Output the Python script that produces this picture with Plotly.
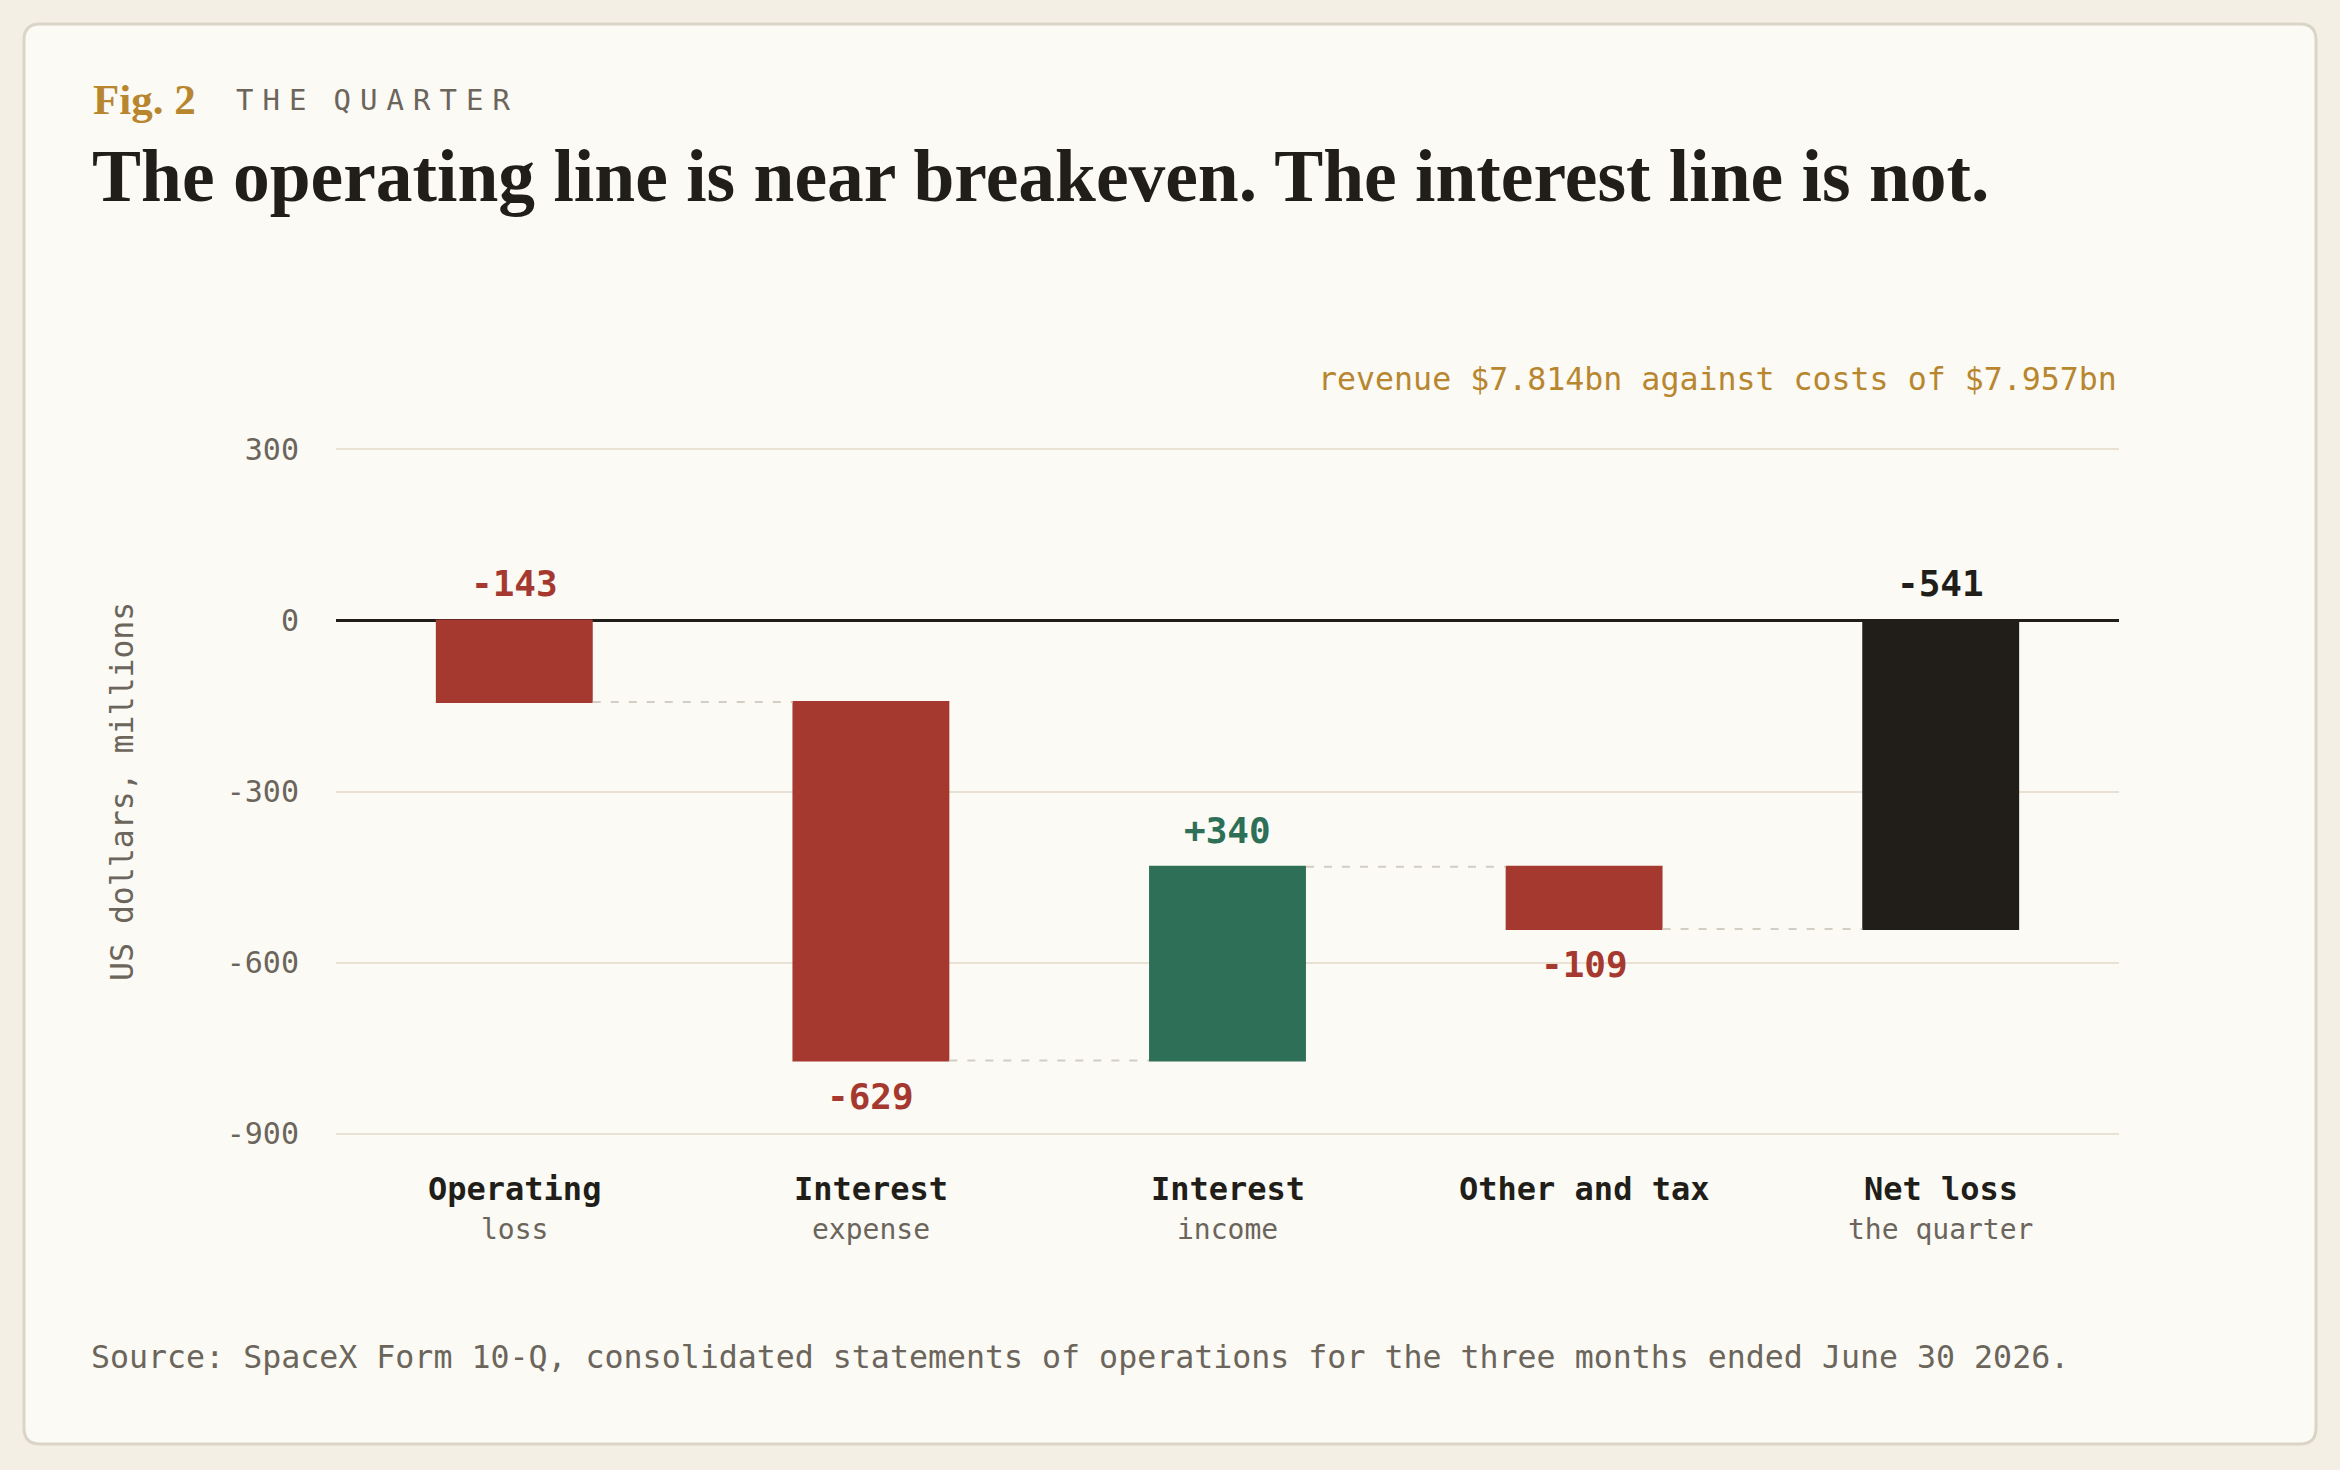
import plotly.graph_objects as go

# values in US$ millions, quarter ended June 30 2026
steps = ["op", "int_exp", "int_inc", "other", "net"]
step_names = ["Operating", "Interest", "Interest", "Other and tax", "Net loss"]
step_notes = ["loss", "expense", "income", "", "the quarter"]
amounts = [-143, -629, 340, -109, None]
measures = ["relative", "relative", "relative", "relative", "total"]
y_ticks = [300, 0, -300, -600, -900]

RED = "#a6392f"
GREEN = "#2e6f58"
INK = "#211e19"
GOLD = "#b8862e"
GREY = "#6b655b"
CARD = "#fbfaf5"
PAGE = "#f4efe5"
MONO = "DejaVu Sans Mono"
SERIF = "Liberation Serif"

W, H = 2340, 1470
L, R, T, B = 336, 221, 438, 325
PW, PH = W - L - R, H - T - B


def px_x(x):
    return (x - L) / PW


def px_y(y):
    return (H - B - y) / PH


# running totals, so labels can sit at the end of each bar
ends, starts, run = [], [], 0
for a, m in zip(amounts, measures):
    if m == "total":
        starts.append(0)
        ends.append(run)
    else:
        starts.append(run)
        run += a
        ends.append(run)

fig = go.Figure()
fig.add_trace(go.Waterfall(
    x=steps,
    y=amounts[:-1] + [0],
    measure=measures,
    width=0.44,
    decreasing=dict(marker=dict(color=RED)),
    increasing=dict(marker=dict(color=GREEN)),
    totals=dict(marker=dict(color=INK)),
    connector=dict(mode="between", line=dict(color="#d4cec2", width=2, dash="8px,10px")),
    textinfo="none",
    hoverinfo="skip",
))

# value labels
for i, key in enumerate(steps):
    val = ends[i] - starts[i]
    colour = INK if measures[i] == "total" else (GREEN if val > 0 else RED)
    txt = f"{val:+d}" if val > 0 else f"{val:d}"
    if starts[i] == 0 or val > 0:
        y, anchor, shift = max(starts[i], ends[i]), "bottom", 14
    else:
        y, anchor, shift = ends[i], "top", -13
    fig.add_annotation(x=key, y=y, text=f"<b>{txt}</b>", showarrow=False,
                       yanchor=anchor, yshift=shift,
                       font=dict(family=MONO, size=36, color=colour))

# category labels under the axis
for key, name, note in zip(steps, step_names, step_notes):
    fig.add_annotation(x=key, y=px_y(1189), yref="paper", text=f"<b>{name}</b>",
                       showarrow=False, yanchor="middle",
                       font=dict(family=MONO, size=32, color=INK))
    if note:
        fig.add_annotation(x=key, y=px_y(1229), yref="paper", text=note,
                           showarrow=False, yanchor="middle",
                           font=dict(family=MONO, size=28, color=GREY))

# card behind the chart
x0, x1, y0, y1, r = 24, 2316, 24, 1444, 16
card_path = (
    f"M {px_x(x0 + r)} {px_y(y0)} L {px_x(x1 - r)} {px_y(y0)} "
    f"Q {px_x(x1)} {px_y(y0)} {px_x(x1)} {px_y(y0 + r)} "
    f"L {px_x(x1)} {px_y(y1 - r)} Q {px_x(x1)} {px_y(y1)} {px_x(x1 - r)} {px_y(y1)} "
    f"L {px_x(x0 + r)} {px_y(y1)} Q {px_x(x0)} {px_y(y1)} {px_x(x0)} {px_y(y1 - r)} "
    f"L {px_x(x0)} {px_y(y0 + r)} Q {px_x(x0)} {px_y(y0)} {px_x(x0 + r)} {px_y(y0)} Z"
)
fig.add_shape(type="path", path=card_path, xref="paper", yref="paper",
              fillcolor=CARD, line=dict(color="#dbd5c7", width=3), layer="below")

gap = "<span style='font-size:15px'> </span>"
kicker = gap.join("THE") + gap * 3 + gap.join("QUARTER")

fig.add_annotation(x=px_x(91), y=px_y(100), xref="paper", yref="paper",
                   text="<b>Fig. 2</b>", showarrow=False, xanchor="left", yanchor="middle",
                   font=dict(family=SERIF, size=43, color=GOLD))
fig.add_annotation(x=px_x(234), y=px_y(100), xref="paper", yref="paper",
                   text=kicker, showarrow=False, xanchor="left", yanchor="middle",
                   font=dict(family=MONO, size=29, color=GREY))
fig.add_annotation(x=px_x(90), y=px_y(176), xref="paper", yref="paper",
                   text="<b>The operating line is near breakeven. The interest line is not.</b>",
                   showarrow=False, xanchor="left", yanchor="middle",
                   font=dict(family=SERIF, size=73.5, color=INK))
fig.add_annotation(x=1, y=px_y(379), xref="paper", yref="paper",
                   text="revenue $7.814bn against costs of $7.957bn",
                   showarrow=False, xanchor="right", yanchor="middle",
                   font=dict(family=MONO, size=31.6, color=GOLD))
fig.add_annotation(x=px_x(122), y=px_y(792), xref="paper", yref="paper",
                   text="US dollars, millions", textangle=-90,
                   showarrow=False, xanchor="center", yanchor="middle",
                   font=dict(family=MONO, size=31.5, color=GREY))
fig.add_annotation(x=px_x(89), y=px_y(1357), xref="paper", yref="paper",
                   text="Source: SpaceX Form 10-Q, consolidated statements of operations "
                        "for the three months ended June 30 2026.",
                   showarrow=False, xanchor="left", yanchor="middle",
                   font=dict(family=MONO, size=31.6, color=GREY))

fig.update_layout(
    width=W, height=H,
    margin=dict(l=L, r=R, t=T, b=B, autoexpand=False),
    paper_bgcolor=PAGE,
    plot_bgcolor=CARD,
    showlegend=False,
    xaxis=dict(
        categoryorder="array", categoryarray=steps,
        showticklabels=False,
        showgrid=False, showline=False, zeroline=False, ticks="",
        fixedrange=True,
    ),
    yaxis=dict(
        range=[-920, 320], tickvals=y_ticks, ticktext=[str(v) for v in y_ticks],
        tickfont=dict(family=MONO, size=30, color=GREY),
        showgrid=True, gridcolor="#e9e1d3", gridwidth=2,
        zeroline=True, zerolinecolor=INK, zerolinewidth=3,
        showline=False, ticks="", ticklabelstandoff=36, fixedrange=True,
    ),
)

fig.write_html("out.html", config={"displayModeBar": False},
               post_script="document.body.style.margin='0';")
